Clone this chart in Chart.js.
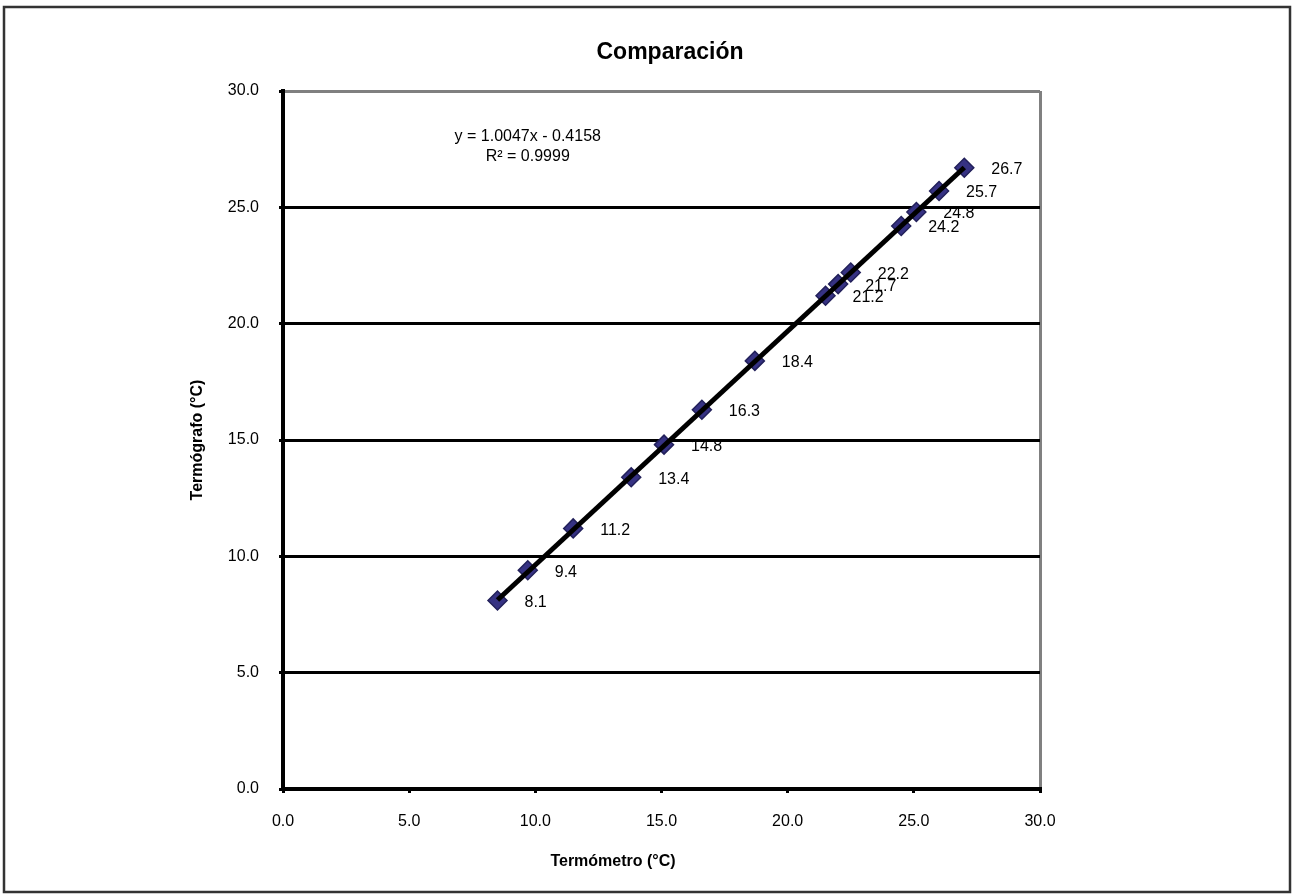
<!DOCTYPE html>
<html>
<head>
<meta charset="utf-8">
<title>Comparación</title>
<script src="https://cdn.jsdelivr.net/npm/chart.js@4.4.0/dist/chart.umd.min.js"></script>
<style>
  body { margin: 0; background: #fff; }
  #wrap { width: 1298px; height: 894px; position: relative; }
</style>
</head>
<body>
<div id="wrap"><canvas id="chart"></canvas></div>
<script>
// readings: thermometer (x) vs thermograph (y)
const termometro = [8.5, 9.7, 11.5, 13.8, 15.1, 16.6, 18.7, 21.5, 22.0, 22.5, 24.5, 25.1, 26.0, 27.0];
const termografo = [8.1, 9.4, 11.2, 13.4, 14.8, 16.3, 18.4, 21.2, 21.7, 22.2, 24.2, 24.8, 25.7, 26.7];
const axisTicks = [0, 5, 10, 15, 20, 25, 30];

// linear trendline shown on the chart
const slope = 1.0047;
const intercept = -0.4158;
const rSquared = 0.9999;

const xMin = Math.min(...termometro);
const xMax = Math.max(...termometro);
const trend = [
  { x: xMin, y: slope * xMin + intercept },
  { x: xMax, y: slope * xMax + intercept }
];

Chart.defaults.font.family = "'Liberation Sans', Arial, sans-serif";
Chart.defaults.color = '#000';

const extras = {
  id: 'extras',
  beforeDraw(chart) {
    const ctx = chart.ctx;
    ctx.save();
    ctx.fillStyle = '#fff';
    ctx.fillRect(0, 0, chart.width, chart.height);
    ctx.restore();
  },
  afterDraw(chart) {
    const ctx = chart.ctx;
    const xs = chart.scales.x;
    const ys = chart.scales.y;
    ctx.save();
    ctx.fillStyle = '#000';

    // title
    ctx.font = "bold 23px 'Liberation Sans', Arial, sans-serif";
    ctx.textAlign = 'center';
    ctx.textBaseline = 'middle';
    ctx.fillText('Comparación', 670, 53);

    // x axis title
    ctx.font = "bold 16px 'Liberation Sans', Arial, sans-serif";
    ctx.fillText('Termómetro (°C)', 613, 862);

    // trendline equation
    ctx.font = "16px 'Liberation Sans', Arial, sans-serif";
    const ex = xs.getPixelForValue(9.7);
    const ey = ys.getPixelForValue(27.6);
    ctx.fillText('y = ' + slope.toFixed(4) + 'x - ' + Math.abs(intercept).toFixed(4), ex, ey - 10);
    ctx.fillText('R² = ' + rSquared.toFixed(4), ex, ey + 10);

    // point labels
    ctx.textAlign = 'left';
    const meta = chart.getDatasetMeta(1);
    meta.data.forEach((pt, i) => {
      ctx.fillText(termografo[i].toFixed(1), pt.x + 27, pt.y + 2);
    });

    // outer frame
    ctx.strokeStyle = '#333';
    ctx.lineWidth = 2.5;
    ctx.strokeRect(4, 7, 1286, 885);
    ctx.restore();
  }
};

const tickFmt = v => Number(v).toFixed(1);

new Chart(document.getElementById('chart'), {
  type: 'scatter',
  data: {
    datasets: [
      {
        type: 'line',
        label: 'Lineal',
        data: trend,
        borderColor: '#000',
        borderWidth: 5,
        pointRadius: 0,
        fill: false,
        order: 0
      },
      {
        label: 'Termógrafo',
        data: termometro.map((x, i) => ({ x: x, y: termografo[i] })),
        pointStyle: 'rectRot',
        pointRadius: 9.5,
        pointBackgroundColor: '#363283',
        pointBorderColor: '#22205a',
        pointBorderWidth: 1.5,
        showLine: false,
        order: 1
      }
    ]
  },
  options: {
    responsive: true,
    maintainAspectRatio: false,
    animation: false,
    layout: {
      padding: { left: 170, right: 258, top: 91, bottom: 45 }
    },
    plugins: {
      legend: { display: false },
      tooltip: { enabled: false }
    },
    scales: {
      x: {
        type: 'linear',
        min: 0,
        max: 30,
        afterBuildTicks: s => { s.ticks = axisTicks.map(v => ({ value: v })); },
        afterFit: s => { s.height = 60; },
        ticks: {
          callback: tickFmt,
          font: { size: 16 },
          color: '#000',
          padding: 19,
          maxRotation: 0
        },
        grid: {
          drawOnChartArea: true,
          color: c => (c.tick && c.tick.value === 30 ? '#808080' : 'rgba(0,0,0,0)'),
          lineWidth: 3,
          tickColor: '#000',
          tickLength: 4,
          tickWidth: 3
        },
        border: { color: '#000', width: 4 }
      },
      y: {
        type: 'linear',
        min: 0,
        max: 30,
        afterBuildTicks: s => { s.ticks = axisTicks.map(v => ({ value: v })); },
        afterFit: s => { s.width = 113; },
        ticks: {
          callback: tickFmt,
          font: { size: 16 },
          color: '#000',
          padding: 20
        },
        title: {
          display: true,
          text: 'Termógrafo (°C)',
          font: { size: 16, weight: 'bold' },
          color: '#000',
          padding: { top: 18, bottom: 0 }
        },
        grid: {
          color: c => (c.tick && c.tick.value === 30 ? '#808080' : '#000'),
          lineWidth: 3,
          tickColor: '#000',
          tickLength: 4,
          tickWidth: 3
        },
        border: { color: '#000', width: 4 }
      }
    }
  },
  plugins: [extras]
});
</script>
</body>
</html>
